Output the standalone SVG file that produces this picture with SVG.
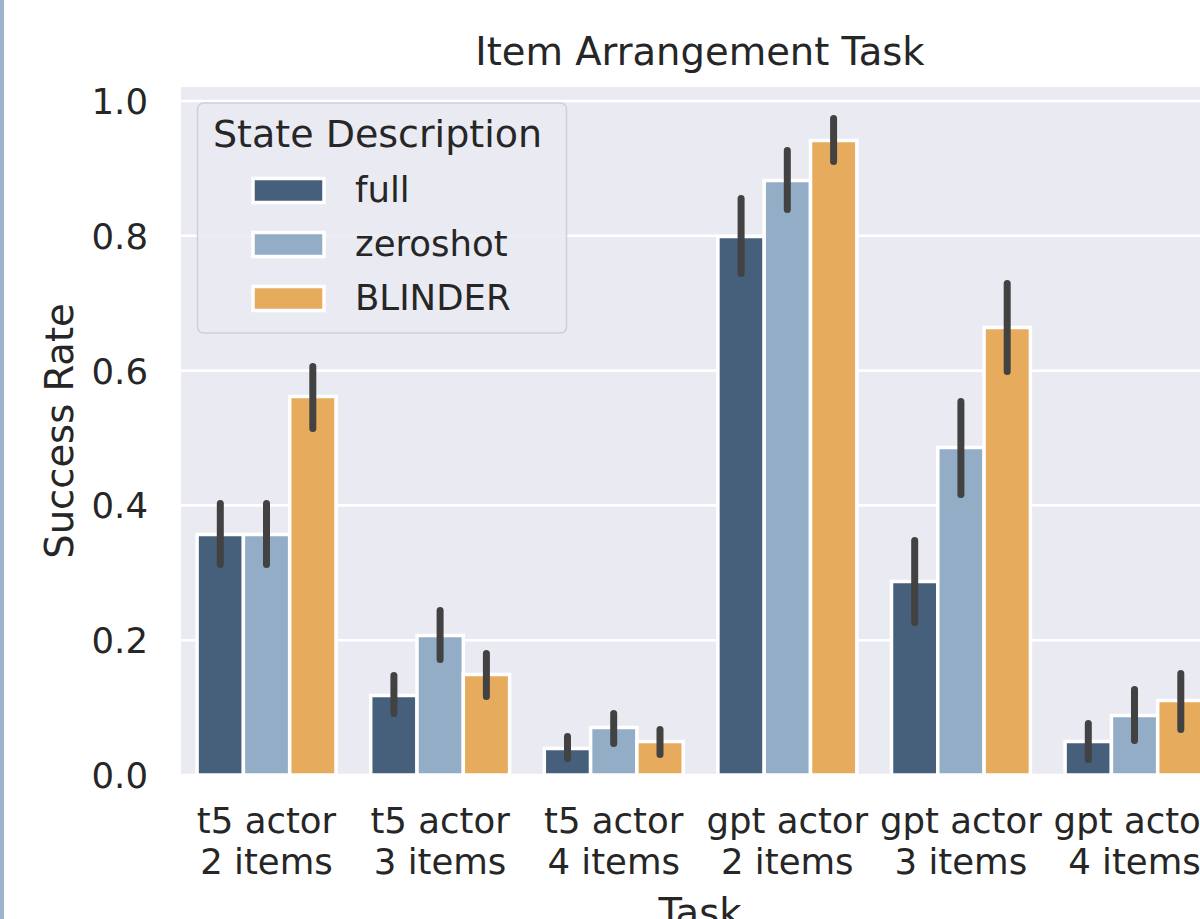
<svg xmlns="http://www.w3.org/2000/svg" width="1200" height="919" viewBox="0 0 1200 919">
  <style>
    text { font-family: "DejaVu Sans", "Liberation Sans", sans-serif; fill: #262626; }
    .tick { font-size: 35.5px; }
    .ylab { font-size: 35.5px; text-anchor: end; }
    .xlab { font-size: 35.5px; text-anchor: middle; }
    .axlabel { font-size: 38.5px; text-anchor: middle; }
    .title { font-size: 38.5px; text-anchor: middle; }
    .grid { stroke: #ffffff; stroke-width: 2.6; }
    .bar { stroke: #ffffff; stroke-width: 3.5; }
    .full { fill: #465f7b; }
    .zero { fill: #94adc6; }
    .blind { fill: #e6ab5c; }
    .err { stroke: #424242; stroke-width: 7; stroke-linecap: round; }
    .legtitle { font-size: 38px; }
    .leglabel { font-size: 35.5px; }
  </style>

  <!-- page background and left edge strip -->
  <rect x="0" y="0" width="1200" height="919" fill="#ffffff"/>
  <rect x="0" y="0" width="4" height="919" fill="#9db4cc"/>

  <!-- plot area -->
  <g id="axes">
    <rect x="181" y="87" width="1019" height="688" fill="#eaeaf2"/>
    <g id="gridlines">
      <line class="grid" x1="181" y1="775" x2="1200" y2="775"/>
      <line class="grid" x1="181" y1="640.2" x2="1200" y2="640.2"/>
      <line class="grid" x1="181" y1="505.4" x2="1200" y2="505.4"/>
      <line class="grid" x1="181" y1="370.6" x2="1200" y2="370.6"/>
      <line class="grid" x1="181" y1="235.8" x2="1200" y2="235.8"/>
      <line class="grid" x1="181" y1="101" x2="1200" y2="101"/>
    </g>
  </g>

  <!-- bars: group centres 266.5 + 173.6*k, bar width 46.3 -->
  <g id="bars">
    <g id="t5-2">
      <rect class="bar full"  x="197.1" y="534.5" width="46.3" height="240.5"/>
      <rect class="bar zero"  x="243.4" y="534.5" width="46.3" height="240.5"/>
      <rect class="bar blind" x="289.7" y="396.5" width="46.3" height="378.5"/>
    </g>
    <g id="t5-3">
      <rect class="bar full"  x="370.7" y="695.5" width="46.3" height="79.5"/>
      <rect class="bar zero"  x="417.0" y="635.5" width="46.3" height="139.5"/>
      <rect class="bar blind" x="463.3" y="674.5" width="46.3" height="100.5"/>
    </g>
    <g id="t5-4">
      <rect class="bar full"  x="544.3" y="748.5" width="46.3" height="26.5"/>
      <rect class="bar zero"  x="590.6" y="727.5" width="46.3" height="47.5"/>
      <rect class="bar blind" x="636.9" y="741.5" width="46.3" height="33.5"/>
    </g>
    <g id="gpt-2">
      <rect class="bar full"  x="717.9" y="236.5" width="46.3" height="538.5"/>
      <rect class="bar zero"  x="764.2" y="180.5" width="46.3" height="594.5"/>
      <rect class="bar blind" x="810.5" y="140.5" width="46.3" height="634.5"/>
    </g>
    <g id="gpt-3">
      <rect class="bar full"  x="891.5" y="581.5" width="46.3" height="193.5"/>
      <rect class="bar zero"  x="937.8" y="447.5" width="46.3" height="327.5"/>
      <rect class="bar blind" x="984.1" y="327.5" width="46.3" height="447.5"/>
    </g>
    <g id="gpt-4">
      <rect class="bar full"  x="1065.1" y="741.5" width="46.3" height="33.5"/>
      <rect class="bar zero"  x="1111.4" y="715.5" width="46.3" height="59.5"/>
      <rect class="bar blind" x="1157.7" y="700.5" width="46.3" height="74.5"/>
    </g>
  </g>

  <!-- confidence intervals -->
  <g id="errorbars">
    <line class="err" x1="220.3" y1="503.5" x2="220.3" y2="564.5"/>
    <line class="err" x1="266.5" y1="503.5" x2="266.5" y2="564.5"/>
    <line class="err" x1="312.8" y1="366.5" x2="312.8" y2="428.5"/>

    <line class="err" x1="393.9" y1="675.5" x2="393.9" y2="713.5"/>
    <line class="err" x1="440.1" y1="610.5" x2="440.1" y2="659.5"/>
    <line class="err" x1="486.4" y1="653.5" x2="486.4" y2="696.5"/>

    <line class="err" x1="567.5" y1="736.5" x2="567.5" y2="758.5"/>
    <line class="err" x1="613.7" y1="713.5" x2="613.7" y2="743.5"/>
    <line class="err" x1="660.0" y1="729.5" x2="660.0" y2="754.5"/>

    <line class="err" x1="741.1" y1="198.5" x2="741.1" y2="273.5"/>
    <line class="err" x1="787.3" y1="150.5" x2="787.3" y2="209.5"/>
    <line class="err" x1="833.6" y1="118.5" x2="833.6" y2="161.5"/>

    <line class="err" x1="914.7" y1="540.5" x2="914.7" y2="622.5"/>
    <line class="err" x1="960.9" y1="401.5" x2="960.9" y2="494.5"/>
    <line class="err" x1="1007.2" y1="283.5" x2="1007.2" y2="371.5"/>

    <line class="err" x1="1088.3" y1="723.5" x2="1088.3" y2="759.5"/>
    <line class="err" x1="1134.5" y1="689.5" x2="1134.5" y2="740.5"/>
    <line class="err" x1="1180.8" y1="673.5" x2="1180.8" y2="729.5"/>
  </g>

  <!-- y axis -->
  <g id="yticks">
    <text class="ylab" x="148" y="788">0.0</text>
    <text class="ylab" x="148" y="653">0.2</text>
    <text class="ylab" x="148" y="518">0.4</text>
    <text class="ylab" x="148" y="384">0.6</text>
    <text class="ylab" x="148" y="249">0.8</text>
    <text class="ylab" x="148" y="114">1.0</text>
  </g>
  <text class="axlabel" transform="translate(73 431) rotate(-90)">Success Rate</text>

  <!-- x axis -->
  <g id="xticks">
    <text class="xlab" x="266.5" y="833">t5 actor</text>
    <text class="xlab" x="266.5" y="874">2 items</text>
    <text class="xlab" x="440.1" y="833">t5 actor</text>
    <text class="xlab" x="440.1" y="874">3 items</text>
    <text class="xlab" x="613.7" y="833">t5 actor</text>
    <text class="xlab" x="613.7" y="874">4 items</text>
    <text class="xlab" x="787.3" y="833">gpt actor</text>
    <text class="xlab" x="787.3" y="874">2 items</text>
    <text class="xlab" x="960.9" y="833">gpt actor</text>
    <text class="xlab" x="960.9" y="874">3 items</text>
    <text class="xlab" x="1134.5" y="833">gpt actor</text>
    <text class="xlab" x="1134.5" y="874">4 items</text>
  </g>
  <text class="axlabel" x="700" y="926">Task</text>

  <!-- title -->
  <text class="title" x="700" y="65">Item Arrangement Task</text>

  <!-- legend -->
  <g id="legend">
    <rect x="197.5" y="103" width="369" height="230" rx="6" ry="6" fill="#eaeaf2" fill-opacity="0.85" stroke="#cfcfd6" stroke-width="1.5"/>
    <text class="legtitle" x="213" y="147">State Description</text>
    <rect class="bar full"  x="253" y="178.5" width="71" height="24"/>
    <text class="leglabel" x="355" y="202">full</text>
    <rect class="bar zero"  x="253" y="232.5" width="71" height="24"/>
    <text class="leglabel" x="355" y="256">zeroshot</text>
    <rect class="bar blind" x="253" y="286.5" width="71" height="24"/>
    <text class="leglabel" x="355" y="310">BLINDER</text>
  </g>
</svg>
